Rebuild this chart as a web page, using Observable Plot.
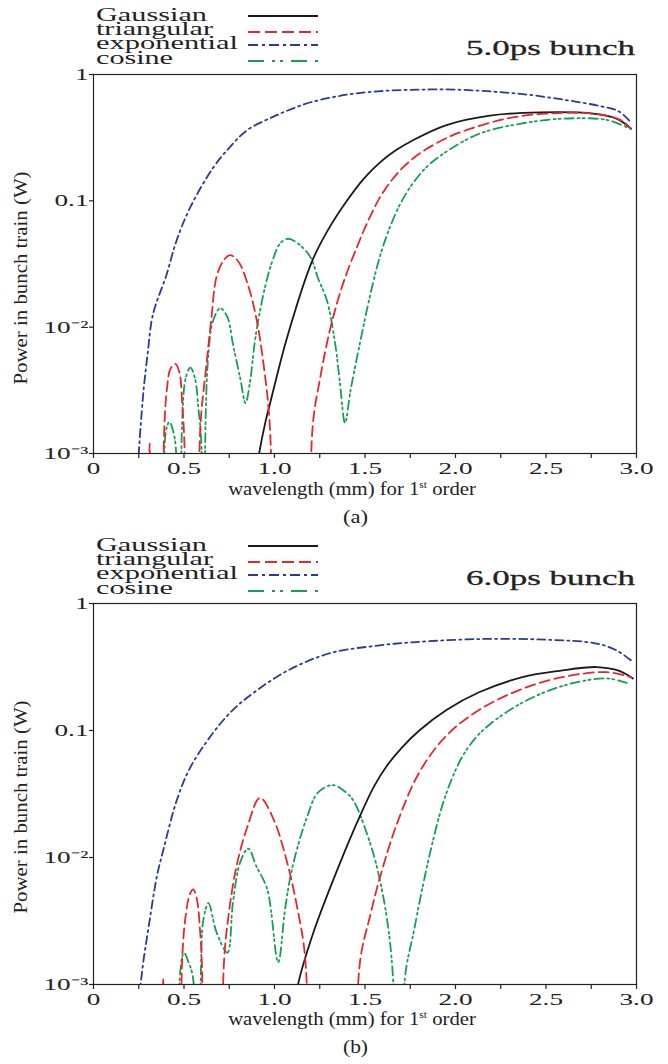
<!DOCTYPE html>
<html><head><meta charset="utf-8">
<script src="https://cdn.jsdelivr.net/npm/d3@7"></script>
<script src="https://cdn.jsdelivr.net/npm/@observablehq/plot@0.6"></script>
<style>
html,body{margin:0;padding:0;background:#fff;}
#root{position:relative;width:668px;height:1064px;overflow:hidden;}
#root svg{position:absolute;left:0;}
</style></head><body><div id="root"></div>
<script>
// ---------- axis ticks ----------
const xTicks = [0, 0.25, 0.5, 0.75, 1, 1.25, 1.5, 1.75, 2, 2.25, 2.5, 2.75, 3];
const xLabelTicks = [0, 0.5, 1, 1.5, 2, 2.5, 3];
const xTickLabels = ["0", "0.5", "1.0", "1.5", "2.0", "2.5", "3.0"];
const yTicks = [0.001, 0.01, 0.1, 1];
const yTickLabels = ["10\u207B\u00B3", "10\u207B\u00B2", "0.1", "1"];

// ---------- series ----------
const seriesNames = ["Gaussian", "triangular", "exponential", "cosine"];
const seriesColors = ["#1a1a1a", "#e8262d", "#2b3a91", "#14a050"];
const seriesDash = [null, "10 5", "8 4 2 4", "9 4 2 3 2 4"];

// panel (a): 5.0 ps bunch  (wavelength mm, power W; null = gap)
const a_gauss_x = [0.90, 0.915, 0.95, 0.976, 1.07, 1.21, 1.30, 1.40, 1.49, 1.58, 1.67, 1.765, 1.95, 2.19, 2.465, 2.76, 2.89, 2.97];
const a_gauss_p = [0.00071, 0.001, 0.00178, 0.00251, 0.00832, 0.0339, 0.0603, 0.1, 0.148, 0.2, 0.251, 0.302, 0.398, 0.473, 0.501, 0.49, 0.447, 0.372];

const a_tri_x = [0.30, 0.31, 0.32, null, 0.378, 0.39, 0.405, 0.425, 0.452, 0.475, 0.49, 0.503, 0.515, null, 0.575, 0.59, 0.62, 0.65, 0.68, 0.72, 0.755, 0.80, 0.85, 0.90, 0.94, 0.975, 0.995, null, 1.195, 1.21, 1.25, 1.31, 1.38, 1.46, 1.52, 1.58, 1.64, 1.70, 1.77, 1.84, 1.94, 2.04, 2.28, 2.50, 2.76, 2.91, 2.97];
const a_tri_p = [1e-5, 0.0012, 1e-5, null, 1e-5, 0.00141, 0.00316, 0.00468, 0.00513, 0.00437, 0.00251, 0.00112, 1e-5, null, 1e-5, 0.00158, 0.00447, 0.0112, 0.0251, 0.0339, 0.0372, 0.0331, 0.0224, 0.0117, 0.00501, 0.00158, 1e-5, null, 1e-5, 0.00158, 0.0038, 0.01, 0.0224, 0.0447, 0.0708, 0.105, 0.141, 0.178, 0.219, 0.257, 0.309, 0.355, 0.447, 0.49, 0.49, 0.437, 0.372];

const a_exp_x = [0.245, 0.25, 0.265, 0.28, 0.30, 0.32, 0.34, 0.40, 0.46, 0.535, 0.66, 0.75, 0.85, 1.0, 1.1, 1.2, 1.4, 1.6, 1.8, 2.0, 2.2, 2.4, 2.6, 2.8, 2.9, 2.97];
const a_exp_p = [0.0007, 0.001, 0.002, 0.00355, 0.0063, 0.011, 0.0145, 0.0251, 0.049, 0.0891, 0.182, 0.263, 0.363, 0.468, 0.537, 0.603, 0.692, 0.741, 0.759, 0.759, 0.733, 0.692, 0.631, 0.562, 0.513, 0.417];

const a_cos_x = [0.393, 0.40, 0.42, 0.44, 0.455, 0.462, null, 0.478, 0.49, 0.51, 0.535, 0.56, 0.58, 0.595, 0.605, null, 0.61, 0.62, 0.635, 0.66, 0.70, 0.74, 0.77, 0.81, 0.84, 0.866, 0.89, 0.92, 0.96, 0.99, 1.03, 1.075, 1.14, 1.20, 1.24, 1.29, 1.335, 1.36, 1.39, 1.42, 1.47, 1.52, 1.565, 1.60, 1.64, 1.70, 1.765, 1.85, 1.95, 2.13, 2.355, 2.59, 2.835, 2.95];
const a_cos_p = [1e-5, 0.0015, 0.00178, 0.0015, 0.0011, 1e-5, null, 1e-5, 0.00178, 0.00398, 0.00479, 0.00398, 0.00224, 0.00126, 1e-5, null, 1e-5, 0.002, 0.00617, 0.0112, 0.0141, 0.012, 0.00741, 0.00398, 0.00251, 0.0038, 0.00741, 0.0135, 0.0245, 0.0339, 0.0457, 0.0501, 0.0447, 0.0355, 0.0245, 0.0162, 0.00741, 0.0038, 0.00174, 0.00316, 0.00724, 0.0158, 0.0295, 0.0437, 0.0631, 0.0977, 0.138, 0.191, 0.245, 0.339, 0.407, 0.447, 0.437, 0.38];

// panel (b): 6.0 ps bunch
const b_gauss_x = [1.12, 1.13, 1.215, 1.36, 1.47, 1.55, 1.62, 1.70, 1.80, 1.95, 2.13, 2.37, 2.575, 2.78, 2.905, 2.98];
const b_gauss_p = [0.00079, 0.001, 0.00257, 0.00891, 0.0209, 0.0363, 0.0525, 0.0724, 0.1, 0.145, 0.2, 0.263, 0.295, 0.316, 0.295, 0.257];

const b_tri_x = [0.375, 0.385, 0.395, null, 0.478, 0.49, 0.51, 0.53, 0.55, 0.57, 0.59, 0.60, 0.61, null, 0.705, 0.72, 0.745, 0.79, 0.85, 0.92, 0.995, 1.07, 1.125, 1.17, 1.20, null, 1.455, 1.47, 1.53, 1.58, 1.675, 1.80, 1.95, 2.13, 2.355, 2.59, 2.835, 2.97];
const b_tri_p = [1e-5, 0.0011, 1e-5, null, 1e-5, 0.00158, 0.00355, 0.00501, 0.00562, 0.00479, 0.00251, 0.00126, 1e-5, null, 1e-5, 0.00141, 0.00339, 0.00851, 0.0174, 0.0295, 0.02, 0.00912, 0.00407, 0.00158, 1e-5, null, 1e-5, 0.00141, 0.00355, 0.00676, 0.0182, 0.0468, 0.0912, 0.145, 0.209, 0.263, 0.288, 0.263];

const b_exp_x = [0.25, 0.26, 0.277, 0.30, 0.35, 0.386, 0.46, 0.535, 0.66, 0.755, 0.85, 1.07, 1.31, 1.58, 1.765, 2.13, 2.50, 2.78, 2.89, 2.98];
const b_exp_p = [0.00079, 0.001, 0.00158, 0.00257, 0.00708, 0.0115, 0.0282, 0.0513, 0.0955, 0.138, 0.182, 0.295, 0.407, 0.468, 0.495, 0.525, 0.519, 0.484, 0.427, 0.347];

const b_cos_x = [0.472, 0.48, 0.50, 0.525, 0.55, 0.562, null, 0.585, 0.595, 0.607, 0.635, 0.68, 0.74, 0.77, 0.81, 0.855, 0.90, 0.96, 1.02, 1.06, 1.10, 1.18, 1.24, 1.32, 1.38, 1.435, 1.51, 1.565, 1.62, 1.655, 1.68, null, 1.69, 1.72, 1.77, 1.82, 1.87, 1.925, 1.98, 2.04, 2.11, 2.19, 2.37, 2.59, 2.835, 2.96];
const b_cos_p = [1e-5, 0.0013, 0.00178, 0.0015, 0.00112, 1e-5, null, 1e-5, 0.00158, 0.00324, 0.00437, 0.00257, 0.00178, 0.00437, 0.00912, 0.01175, 0.00851, 0.00562, 0.0015, 0.00407, 0.00851, 0.0209, 0.0324, 0.0372, 0.0339, 0.0282, 0.0155, 0.00851, 0.00339, 0.0011, 1e-5, null, 1e-5, 0.0011, 0.00263, 0.00603, 0.0126, 0.0251, 0.0417, 0.0631, 0.0871, 0.112, 0.166, 0.224, 0.257, 0.234];

// ---------- rendering ----------
const root = document.getElementById("root");
const FONT = "'Liberation Serif','Times New Roman',serif";

function stretchText(el, k) {
  const L = el.getComputedTextLength();
  if (L > 0) {
    el.setAttribute("textLength", (L * k).toFixed(1));
    el.setAttribute("lengthAdjust", "spacingAndGlyphs");
  }
}

function chart(frameTop, frameBottom, S) {
  const mt = 12, mb = 30;
  const height = frameBottom - frameTop + mt + mb;
  const order = [
    {x: S.exp_x, p: S.exp_p, i: 2},
    {x: S.cos_x, p: S.cos_p, i: 3},
    {x: S.gauss_x, p: S.gauss_p, i: 0},
    {x: S.tri_x, p: S.tri_p, i: 1}
  ];
  const svg = Plot.plot({
    width: 668, height,
    marginLeft: 93, marginRight: 32, marginTop: mt, marginBottom: mb,
    style: {fontFamily: FONT, fontSize: "17px", color: "#222", background: "transparent", overflow: "visible"},
    x: {domain: [0, 3]},
    y: {type: "log", domain: [0.001, 1]},
    marks: [
      ...order.map(s => Plot.line(
        s.x.map((x, j) => ({x, p: s.p[j]})),
        {x: "x", y: "p", stroke: seriesColors[s.i], strokeWidth: 1.8,
         strokeDasharray: seriesDash[s.i] || undefined, curve: "catmull-rom", clip: true})),
      Plot.frame({stroke: "#222", strokeWidth: 1.2}),
      Plot.axisX(xTicks, {tickSize: 5, tickFormat: () => "", label: null, strokeWidth: 1.2}),
      Plot.axisX(xLabelTicks, {tickSize: 0, tickPadding: 8, label: null,
        tickFormat: d => xTickLabels[xLabelTicks.indexOf(d)]}),
      Plot.axisY(yTicks, {tickSize: 4, tickPadding: 1, label: null, strokeWidth: 1.2,
        tickFormat: d => yTickLabels[yTicks.indexOf(d)]})
    ]
  });
  svg.style.top = (frameTop - mt) + "px";
  root.appendChild(svg);
  svg.querySelectorAll('g[aria-label="x-axis tick label"] text, g[aria-label="y-axis tick label"] text')
    .forEach(t => stretchText(t, 1.6));
}

chart(74, 453, {gauss_x: a_gauss_x, gauss_p: a_gauss_p, tri_x: a_tri_x, tri_p: a_tri_p,
  exp_x: a_exp_x, exp_p: a_exp_p, cos_x: a_cos_x, cos_p: a_cos_p});
chart(603, 984, {gauss_x: b_gauss_x, gauss_p: b_gauss_p, tri_x: b_tri_x, tri_p: b_tri_p,
  exp_x: b_exp_x, exp_p: b_exp_p, cos_x: b_cos_x, cos_p: b_cos_p});

// ---------- legends, titles, axis labels, captions ----------
const ov = d3.select(root).append("svg")
  .attr("width", 668).attr("height", 1064)
  .style("top", "0px").style("font-family", FONT).style("fill", "#222");

const legendLen = [111, 117, 142, 77];
const legendBase = [21, 35, 49, 64];
const legendLineY = [16, 32, 45, 61];
const legendDash = [null, "12 5", "10 4 3 4", "16 8 3 5 3 8"];
const panels = [
  {off: 0, title: "5.0ps bunch", cap: "(a)", ylab: 278},
  {off: 530, title: "6.0ps bunch", cap: "(b)", ylab: 807}
];

panels.forEach(P => {
  seriesNames.forEach((n, i) => {
    ov.append("text").attr("x", 96).attr("y", legendBase[i] + P.off)
      .attr("font-size", 18).attr("textLength", legendLen[i]).attr("lengthAdjust", "spacingAndGlyphs")
      .text(n);
    ov.append("line").attr("x1", 248).attr("x2", 318)
      .attr("y1", legendLineY[i] + P.off).attr("y2", legendLineY[i] + P.off)
      .attr("stroke", seriesColors[i]).attr("stroke-width", 2)
      .attr("stroke-dasharray", legendDash[i]);
  });
  ov.append("text").attr("x", 466).attr("y", 55 + P.off)
    .attr("font-size", 22).attr("textLength", 169).attr("lengthAdjust", "spacingAndGlyphs")
    .attr("stroke", "#222").attr("stroke-width", 0.3)
    .text(P.title);
  ov.append("text").attr("transform", `translate(21,${P.ylab}) rotate(-90)`)
    .attr("text-anchor", "middle").attr("dominant-baseline", "central")
    .attr("font-size", 18).attr("textLength", 213).attr("lengthAdjust", "spacingAndGlyphs")
    .text("Power in bunch train (W)");
  const xl = ov.append("text").attr("transform", `translate(352,${495 + P.off}) scale(1.15,1)`)
    .attr("text-anchor", "middle").attr("font-size", 18);
  xl.append("tspan").text("wavelength (mm) for 1");
  xl.append("tspan").attr("font-size", 10).attr("dy", -7).text("st");
  xl.append("tspan").attr("dy", 7).text(" order");
  ov.append("text").attr("x", 343).attr("y", 523 + P.off)
    .attr("font-size", 18).attr("textLength", 25).attr("lengthAdjust", "spacingAndGlyphs")
    .text(P.cap);
});
</script></body></html>
